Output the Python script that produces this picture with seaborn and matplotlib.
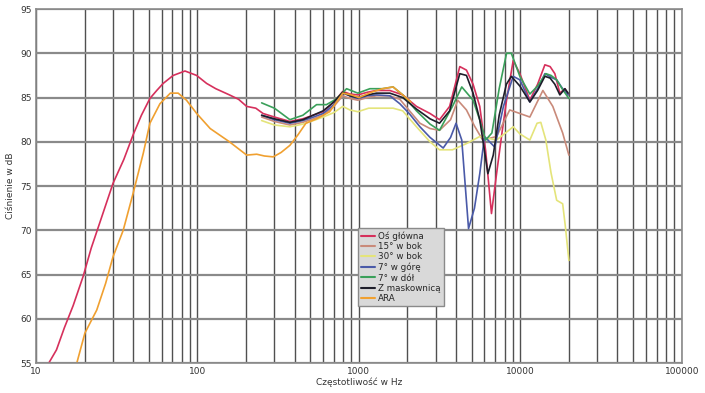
import numpy as np
import pandas as pd
import seaborn as sns
import matplotlib
matplotlib.use("Agg")
import matplotlib.pyplot as plt
from matplotlib.ticker import LogLocator, FixedLocator, NullFormatter

# frequency responses (Hz, dB)
os_f = [12, 13.4, 15, 17, 19.6, 22, 25, 30, 35, 40, 45, 50.8, 56, 61.4, 70.8, 83.8, 98.9, 114, 130, 158,
        180, 202, 230, 255, 300, 374, 450, 520, 601, 700, 795, 880, 986, 1130, 1285, 1555, 1870, 2275,
        2760, 3160, 3650, 4220, 4640, 5100, 5610, 6100, 6630, 7130, 7700, 8220, 9040, 9940, 11460,
        12800, 14200, 15300, 16370, 17580, 18900, 19790]
os_db = [55, 56.5, 59, 61.5, 64.8, 68, 71, 75.3, 78, 80.8, 83, 84.9, 85.8, 86.6, 87.5, 88.0, 87.5, 86.6,
         86.0, 85.3, 84.8, 84.0, 83.8, 83.2, 82.8, 82.3, 82.6, 83.0, 83.4, 84.5, 85.7, 85.4, 85.3, 85.6,
         85.8, 85.8, 85.3, 84.0, 83.2, 82.5, 84.0, 88.5, 88.1, 86.5, 84.0, 79.0, 71.9, 76.4, 81.0, 84.7,
         89.2, 87.7, 84.7, 86.5, 88.7, 88.5, 87.7, 85.5, 86.0, 85.3]

b15_f = [250, 300, 374, 450, 523, 601, 700, 795, 880, 986, 1130, 1285, 1555, 1795, 2390, 2760, 3160,
         3700, 4100, 4640, 5200, 5850, 7130, 8600, 9940, 11460, 12500, 13800, 15900, 18300, 20000]
b15_db = [82.8, 82.3, 81.9, 82.2, 82.6, 83.0, 84.0, 85.2, 84.9, 84.7, 85.0, 85.2, 85.2, 84.8, 82.1, 81.5,
          81.3, 82.5, 84.7, 83.6, 81.8, 80.2, 80.6, 83.6, 83.2, 82.8, 84.2, 85.8, 84.0, 81.0, 78.5]

b30_f = [250, 300, 374, 450, 523, 601, 700, 795, 880, 986, 1150, 1390, 1630, 1870, 2275, 2760, 3160,
         3800, 4640, 5610, 7130, 9040, 9940, 11460, 12700, 13400, 14400, 15500, 16800, 18300, 19000, 20000]
b30_db = [82.4, 81.9, 81.7, 82.0, 82.4, 82.8, 83.3, 84.0, 83.6, 83.4, 83.8, 83.8, 83.8, 83.5, 81.7, 80.0,
          79.1, 79.1, 79.8, 80.6, 80.2, 81.7, 80.9, 80.2, 82.1, 82.2, 80.2, 76.5, 73.4, 73.0, 70.5, 66.6]

gora_f = [250, 300, 374, 450, 523, 601, 700, 795, 880, 986, 1130, 1285, 1555, 1795, 2050, 2390, 2760,
          3330, 3700, 4000, 4340, 4780, 5200, 5610, 6000, 6950, 7860, 9040, 9940, 11460, 12800, 14200,
          15500, 16800, 18300, 19790]
gora_db = [83.0, 82.5, 82.1, 82.4, 82.8, 83.2, 84.2, 85.5, 85.2, 84.9, 85.2, 85.3, 85.2, 84.3, 83.2, 81.7,
           80.5, 79.3, 80.5, 82.1, 80.2, 70.2, 72.5, 76.4, 80.6, 79.4, 84.0, 87.4, 87.0, 84.5, 86.0, 87.7,
           87.3, 87.0, 86.0, 85.3]

dol_f = [250, 300, 374, 450, 547, 630, 720, 840, 985, 1170, 1400, 1630, 1870, 2275, 2760, 3160, 3800,
         4340, 5100, 5600, 6100, 6670, 7400, 8220, 8800, 9940, 11460, 12800, 14400, 15500, 16800, 18300, 20000]
dol_db = [84.4, 83.8, 82.5, 83.0, 84.2, 84.2, 84.8, 86.0, 85.5, 86.0, 86.0, 86.2, 85.3, 83.5, 82.0, 81.3,
          84.0, 86.2, 84.7, 82.5, 80.2, 81.0, 86.0, 90.0, 90.0, 87.4, 85.4, 86.3, 87.7, 87.5, 87.0, 85.9, 84.9]

mask_f = [250, 300, 374, 450, 520, 601, 700, 795, 880, 986, 1130, 1285, 1555, 1870, 2275, 2760, 3160,
          3650, 4220, 4640, 5100, 5610, 6300, 6800, 7400, 8200, 8800, 9940, 11460, 12800, 14200, 15300,
          16370, 17580, 18900, 19790]
mask_db = [83.0, 82.6, 82.2, 82.5, 83.0, 83.5, 84.5, 85.6, 85.2, 85.0, 85.3, 85.5, 85.5, 85.0, 83.7, 82.6,
           82.1, 83.5, 87.7, 87.5, 85.5, 82.5, 76.4, 78.5, 83.0, 86.5, 87.4, 86.3, 84.5, 85.8, 87.4, 87.2,
           86.5, 85.3, 86.0, 85.5]

ara_f = [17.9, 20.1, 23.8, 27, 30, 34.7, 40, 46.2, 50.8, 58.6, 68, 76, 85.6, 99, 120, 158, 202, 233, 260,
         295, 330, 374, 420, 470, 547, 660, 795, 900, 1000, 1200, 1400, 1630, 1870, 2100]
ara_db = [55, 58.4, 61, 64, 67.0, 70.0, 74.2, 78.7, 82.1, 84.3, 85.5, 85.5, 84.7, 83.2, 81.5, 80.0, 78.5,
          78.6, 78.4, 78.3, 78.8, 79.6, 80.8, 82.1, 82.6, 83.4, 85.5, 85.3, 85.0, 85.6, 86.0, 86.2, 85.3, 84.5]

names = ["Oś główna", "15° w bok", "30° w bok", "7° w górę", "7° w dół", "Z maskownicą", "ARA"]
series = [(os_f, os_db), (b15_f, b15_db), (b30_f, b30_db), (gora_f, gora_db),
          (dol_f, dol_db), (mask_f, mask_db), (ara_f, ara_db)]
colors = ["#d6305c", "#c98a7a", "#e4e47a", "#4a5aa8", "#3aa05a", "#1e1e2a", "#f0a030"]

rows = []
for name, (f, db) in zip(names, series):
    for a, b in zip(f, db):
        rows.append((name, a, b))
df = pd.DataFrame(rows, columns=["seria", "f", "db"])

sns.set_style("white")
plt.rcParams['font.family'] = ['DejaVu Sans']

fig = plt.figure(figsize=(7.05, 3.93), dpi=100)
ax = fig.add_axes([0.051, 0.076, 0.916, 0.901])

sns.lineplot(data=df, x="f", y="db", hue="seria", hue_order=names, palette=colors,
             sort=False, estimator=None, linewidth=1.2, ax=ax)

ax.set_xscale("log")
ax.set_xlim(10, 100000)
ax.set_ylim(55, 95)
ax.yaxis.set_major_locator(FixedLocator(range(55, 96, 5)))
ax.xaxis.set_major_locator(FixedLocator([10, 100, 1000, 10000, 100000]))
ax.xaxis.set_minor_locator(LogLocator(base=10, subs=range(2, 10)))
ax.xaxis.set_minor_formatter(NullFormatter())
ax.set_xticklabels(["10", "100", "1000", "10000", "100000"])

ax.grid(True, axis="x", which="both", color="#505050", linewidth=1.0)
ax.grid(True, axis="y", which="major", color="#8a8a8a", linewidth=1.6)
ax.set_axisbelow(True)
for s in ax.spines.values():
    s.set_color("#8a8a8a")
    s.set_linewidth(1.2)

ax.tick_params(axis="both", which="both", length=0, labelsize=6.5, colors="#333333", pad=3)
ax.set_xlabel("Częstotliwość w Hz", fontsize=6.5, color="#333333", labelpad=1)
ax.set_ylabel("Ciśnienie w dB", fontsize=6.5, color="#333333", labelpad=4)

leg = ax.legend(loc="upper left", bbox_to_anchor=(0.498, 0.381), fontsize=6.3, frameon=True,
                fancybox=False, handlelength=1.6, handletextpad=0.4, labelspacing=0.15,
                borderpad=0.35, borderaxespad=0)
leg.get_frame().set_facecolor("#d9d9d9")
leg.get_frame().set_edgecolor("#8a8a8a")
leg.get_frame().set_alpha(1)
for line in leg.get_lines():
    line.set_linewidth(1.5)

fig.savefig("out.png", dpi=100)
